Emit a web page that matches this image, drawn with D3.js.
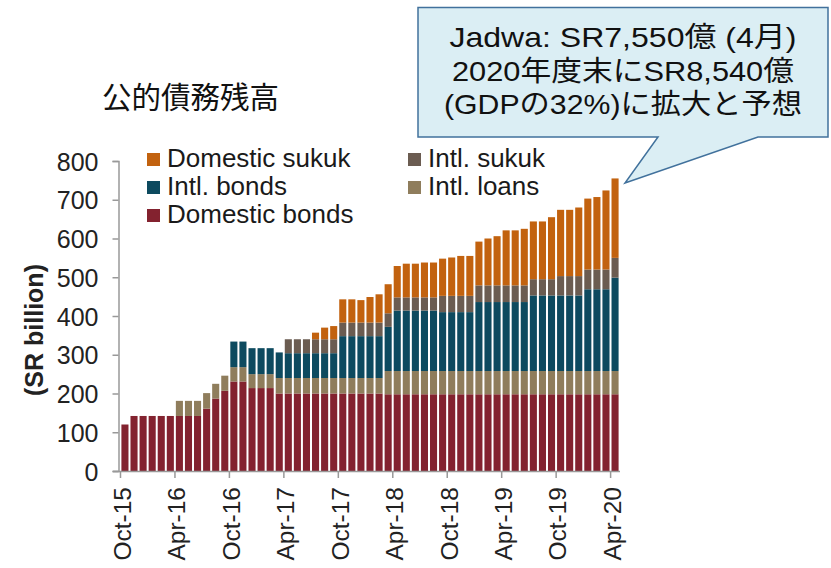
<!DOCTYPE html>
<html>
<head>
<meta charset="utf-8">
<script src="https://cdn.jsdelivr.net/npm/d3@7/dist/d3.min.js"></script>
<style>
  html, body { margin: 0; padding: 0; background: #ffffff; }
  svg { display: block; }
</style>
</head>
<body>
<svg id="chart" width="831" height="568"></svg>
<script>
// ---- Data (SR billion), monthly Oct-15 .. Apr-20 ----
const months = (() => {
  const names = ["Jan","Feb","Mar","Apr","May","Jun","Jul","Aug","Sep","Oct","Nov","Dec"];
  const out = [];
  let m = 9, y = 15;
  for (let i = 0; i < 55; i++) {
    out.push(names[m] + "-" + y);
    m++; if (m === 12) { m = 0; y++; }
  }
  return out;
})();

const domesticBonds = [120,142,142,142,142,142,142,142,142,161,187,207,231,231,214,214,214,
  200,200,200,200,200,200,200,200,200,200,200,200,
  198,198,198,198,198,198,198,198,198,198,198,198,198,198,198,198,198,198,198,198,198,198,198,198,198,198];
const intlLoans = [0,0,0,0,0,0,39,39,39,40,38,39,37,37,36,36,36,
  40,40,40,40,40,40,40,40,40,40,40,40,
  60,60,60,60,60,60,60,60,60,60,60,60,60,60,60,60,60,60,60,60,60,60,60,60,60,60];
const intlBonds = [0,0,0,0,0,0,0,0,0,0,0,0,66,66,67,67,67,66,64,64,64,64,64,64,
  108,108,108,108,108,114,156,156,156,156,156,152,152,152,152,
  178,178,178,178,178,178,195,195,195,195,195,195,211,211,211,241];
const intlSukuk = [0,0,0,0,0,0,0,0,0,0,0,0,0,0,0,0,0,0,36,36,36,36,36,36,
  35,35,35,35,35,35,34,34,34,34,34,42,42,42,42,
  43,43,43,43,43,43,42,42,42,50,50,50,51,51,51,51];
const domesticSukuk = [0,0,0,0,0,0,0,0,0,0,0,0,0,0,0,0,0,0,0,0,0,17,30,34,
  60,60,58,66,73,75,81,87,87,90,90,96,99,103,103,
  113,121,127,142,142,146,149,149,160,171,171,177,183,187,204,205];

const seriesNames = ["Domestic bonds","Intl. loans","Intl. bonds","Intl. sukuk","Domestic sukuk"];
const seriesColors = ["#83222f","#8f7d5c","#0d4a5f","#6b5c51","#c2620f"];
const yTicks = [0,100,200,300,400,500,600,700,800];
const xTickLabels = ["Oct-15","Apr-16","Oct-16","Apr-17","Oct-17","Apr-18","Oct-18","Apr-19","Oct-19","Apr-20"];
const title = "公的債務残高";
const yLabel = "(SR billion)";
const calloutLines = ["Jadwa: SR7,550億 (4月)","2020年度末にSR8,540億","(GDPの32%)に拡大と予想"];

// ---- Build table ----
const table = months.map((m, i) => ({
  month: m,
  "Domestic bonds": domesticBonds[i],
  "Intl. loans": intlLoans[i],
  "Intl. bonds": intlBonds[i],
  "Intl. sukuk": intlSukuk[i],
  "Domestic sukuk": domesticSukuk[i]
}));

const svg = d3.select("#chart");
const latin = "'Liberation Sans', Arial, sans-serif";
const cjk = "'Noto Sans CJK JP', 'Noto Sans', sans-serif";
const mixed = "'Liberation Sans', 'Noto Sans CJK JP', sans-serif";

const x = d3.scaleBand().domain(months).range([120.5, 619.5]).paddingInner(0.22).paddingOuter(0.1);
const y = d3.scaleLinear().domain([0, 800]).range([471, 161]);

const stack = d3.stack().keys(seriesNames);
const layers = stack(table);
const color = d3.scaleOrdinal().domain(seriesNames).range(seriesColors);

// bars
svg.append("g").selectAll("g").data(layers).join("g")
  .attr("fill", d => color(d.key))
  .selectAll("rect").data(d => d.filter(p => p[1] - p[0] > 0)).join("rect")
  .attr("x", d => x(d.data.month))
  .attr("width", x.bandwidth())
  .attr("y", d => y(d[1]))
  .attr("height", d => y(d[0]) - y(d[1]));

// y axis
const axisColor = "#999999";
const yAxis = svg.append("g").attr("transform", "translate(118.5,0)")
  .call(d3.axisLeft(y).tickValues(yTicks).tickSize(6).tickPadding(14));
yAxis.select(".domain").attr("stroke", axisColor).attr("stroke-width", 1.5);
yAxis.selectAll(".tick line").attr("stroke", axisColor).attr("stroke-width", 1.5);
yAxis.selectAll(".tick text").attr("font-family", latin).attr("font-size", 25)
  .attr("fill", "#222").attr("dy", "0.36em");

// x axis
const step = x.step();
const x0 = x.range()[0];
const tickPos = d3.range(0, 55, 6);
const xAxisG = svg.append("g");
xAxisG.append("line").attr("x1", 113).attr("x2", 620).attr("y1", 471.5).attr("y2", 471.5)
  .attr("stroke", axisColor).attr("stroke-width", 1.5);
xAxisG.selectAll("line.tk").data(tickPos).join("line").attr("class", "tk")
  .attr("x1", i => x0 + i * step).attr("x2", i => x0 + i * step)
  .attr("y1", 471.5).attr("y2", 478)
  .attr("stroke", axisColor).attr("stroke-width", 1.5);
xAxisG.selectAll("text").data(tickPos).join("text")
  .attr("transform", (i) => `translate(${x0 + i * step + 1.5},487) rotate(-90)`)
  .attr("text-anchor", "end").attr("dy", "0.36em")
  .attr("font-family", latin).attr("font-size", 24.5).attr("fill", "#222")
  .text((i, k) => xTickLabels[k]);

// y label
svg.append("text").attr("transform", "translate(33.5,330) rotate(-90)")
  .attr("text-anchor", "middle").attr("dy", "0.36em")
  .attr("font-family", latin).attr("font-weight", "bold").attr("font-size", 25).attr("fill", "#222")
  .text(yLabel);

// title
svg.append("text").attr("x", 102).attr("y", 108)
  .attr("font-family", cjk).attr("font-size", 29.5).attr("fill", "#111").text(title);

// legend
const legendItems = [
  {key: "Domestic sukuk", x: 147, y: 167},
  {key: "Intl. bonds", x: 147, y: 195},
  {key: "Domestic bonds", x: 147, y: 223},
  {key: "Intl. sukuk", x: 408, y: 167},
  {key: "Intl. loans", x: 408, y: 195}
];
const lg = svg.append("g").selectAll("g").data(legendItems).join("g");
lg.append("rect").attr("x", d => d.x).attr("y", d => d.y - 14).attr("width", 13).attr("height", 13)
  .attr("fill", d => color(d.key));
lg.append("text").attr("x", d => d.x + 20).attr("y", d => d.y)
  .attr("font-family", latin).attr("font-size", 26).attr("fill", "#1a1a1a").text(d => d.key);

// callout
const co = svg.append("g");
co.append("path")
  .attr("d", "M418,7.5 H828 V137 H758 L625,183 L658,137 H418 Z")
  .attr("fill", "#dbeef4").attr("stroke", "#41719c").attr("stroke-width", 1.5);
const lineY = [47, 80.5, 114];
const lineW = [347, 342, 358];
co.selectAll("text").data(calloutLines).join("text")
  .attr("x", 623).attr("y", (d, i) => lineY[i])
  .attr("text-anchor", "middle")
  .attr("font-family", mixed).attr("font-size", 28).attr("fill", "#111")
  .attr("textLength", (d, i) => lineW[i]).attr("lengthAdjust", "spacingAndGlyphs")
  .text(d => d);
</script>
</body>
</html>
